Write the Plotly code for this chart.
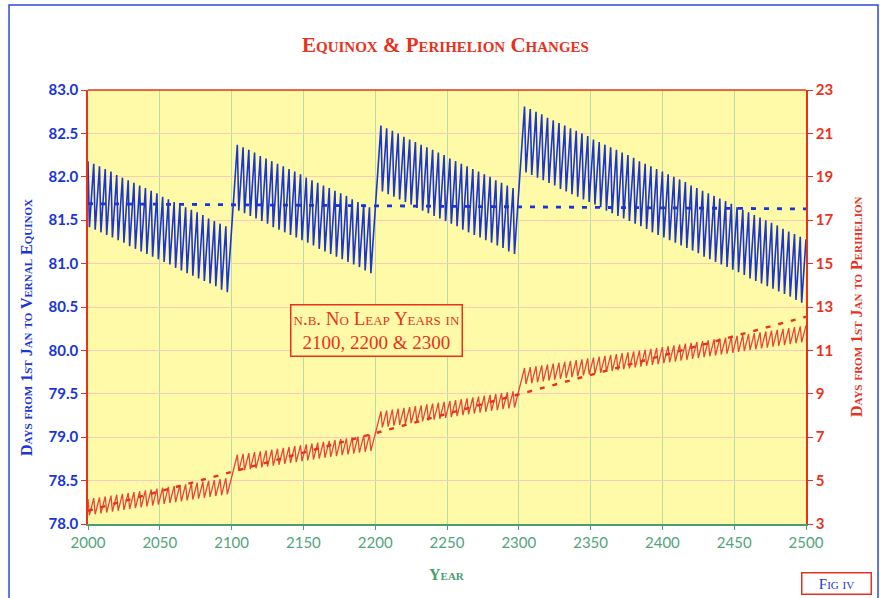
import plotly.graph_objects as go

# leap years (peaks of the saw-tooth); the trough falls in the following year
peak_years = [
    2000, 2004, 2008, 2012, 2016, 2020, 2024, 2028, 2032, 2036, 2040, 2044, 2048,
    2052, 2056, 2060, 2064, 2068, 2072, 2076, 2080, 2084, 2088, 2092, 2096,
    2104, 2108, 2112, 2116, 2120, 2124, 2128, 2132, 2136, 2140, 2144, 2148,
    2152, 2156, 2160, 2164, 2168, 2172, 2176, 2180, 2184, 2188, 2192, 2196,
    2204, 2208, 2212, 2216, 2220, 2224, 2228, 2232, 2236, 2240, 2244, 2248,
    2252, 2256, 2260, 2264, 2268, 2272, 2276, 2280, 2284, 2288, 2292, 2296,
    2304, 2308, 2312, 2316, 2320, 2324, 2328, 2332, 2336, 2340, 2344, 2348,
    2352, 2356, 2360, 2364, 2368, 2372, 2376, 2380, 2384, 2388, 2392, 2396,
    2400, 2404, 2408, 2412, 2416, 2420, 2424, 2428, 2432, 2436, 2440, 2444, 2448,
    2452, 2456, 2460, 2464, 2468, 2472, 2476, 2480, 2484, 2488, 2492, 2496,
]

# days from 1st Jan to vernal equinox
equinox_peak = [
    82.18, 82.15, 82.12, 82.09, 82.06, 82.02, 81.99, 81.96, 81.93, 81.90, 81.87, 81.84, 81.81,
    81.77, 81.74, 81.71, 81.68, 81.65, 81.62, 81.59, 81.56, 81.52, 81.49, 81.46, 81.43,
    82.37, 82.34, 82.31, 82.28, 82.24, 82.21, 82.18, 82.15, 82.12, 82.09, 82.06, 82.03,
    81.99, 81.96, 81.93, 81.90, 81.87, 81.84, 81.81, 81.78, 81.74, 81.71, 81.68, 81.65,
    82.59, 82.56, 82.53, 82.50, 82.46, 82.43, 82.40, 82.37, 82.34, 82.31, 82.28, 82.25,
    82.21, 82.18, 82.15, 82.12, 82.09, 82.06, 82.03, 82.00, 81.96, 81.93, 81.90, 81.87,
    82.81, 82.78, 82.75, 82.72, 82.68, 82.65, 82.62, 82.59, 82.56, 82.53, 82.50, 82.47,
    82.43, 82.40, 82.37, 82.34, 82.31, 82.28, 82.25, 82.22, 82.18, 82.15, 82.12, 82.09,
    82.06, 82.03, 82.00, 81.97, 81.94, 81.90, 81.87, 81.84, 81.81, 81.78, 81.75, 81.72, 81.69,
    81.65, 81.62, 81.59, 81.56, 81.53, 81.50, 81.47, 81.44, 81.40, 81.37, 81.34, 81.31,
]
equinox_trough = [
    81.42, 81.39, 81.36, 81.33, 81.30, 81.27, 81.24, 81.20, 81.17, 81.14, 81.11, 81.08, 81.05,
    81.02, 80.99, 80.95, 80.92, 80.89, 80.86, 80.83, 80.80, 80.77, 80.74, 80.70, 80.67,
    81.61, 81.58, 81.55, 81.52, 81.49, 81.46, 81.42, 81.39, 81.36, 81.33, 81.30, 81.27,
    81.24, 81.21, 81.17, 81.14, 81.11, 81.08, 81.05, 81.02, 80.99, 80.96, 80.92, 80.89,
    81.83, 81.80, 81.77, 81.74, 81.71, 81.68, 81.64, 81.61, 81.58, 81.55, 81.52, 81.49,
    81.46, 81.43, 81.39, 81.36, 81.33, 81.30, 81.27, 81.24, 81.21, 81.18, 81.14, 81.11,
    82.05, 82.02, 81.99, 81.96, 81.93, 81.90, 81.86, 81.83, 81.80, 81.77, 81.74, 81.71,
    81.68, 81.65, 81.61, 81.58, 81.55, 81.52, 81.49, 81.46, 81.43, 81.40, 81.36, 81.33,
    81.30, 81.27, 81.24, 81.21, 81.18, 81.15, 81.12, 81.08, 81.05, 81.02, 80.99, 80.96, 80.93,
    80.90, 80.87, 80.83, 80.80, 80.77, 80.74, 80.71, 80.68, 80.65, 80.62, 80.58, 80.55,
]

# days from 1st Jan to perihelion
perihelion_peak = [
    4.15, 4.19, 4.23, 4.27, 4.31, 4.35, 4.39, 4.43, 4.47, 4.51, 4.55, 4.59, 4.63,
    4.67, 4.71, 4.75, 4.79, 4.83, 4.87, 4.91, 4.95, 4.99, 5.03, 5.07, 5.11,
    6.19, 6.23, 6.27, 6.31, 6.35, 6.39, 6.43, 6.47, 6.51, 6.55, 6.59, 6.63,
    6.67, 6.71, 6.75, 6.79, 6.83, 6.87, 6.91, 6.95, 6.99, 7.03, 7.07, 7.11,
    8.19, 8.23, 8.27, 8.31, 8.35, 8.39, 8.43, 8.47, 8.51, 8.55, 8.59, 8.63,
    8.67, 8.71, 8.75, 8.79, 8.83, 8.87, 8.91, 8.95, 8.99, 9.03, 9.07, 9.11,
    10.19, 10.23, 10.27, 10.31, 10.35, 10.39, 10.43, 10.47, 10.51, 10.55, 10.59, 10.63,
    10.67, 10.71, 10.75, 10.79, 10.83, 10.87, 10.91, 10.95, 10.99, 11.03, 11.07, 11.11,
    11.15, 11.19, 11.23, 11.27, 11.31, 11.35, 11.39, 11.43, 11.47, 11.51, 11.55, 11.59, 11.63,
    11.67, 11.71, 11.75, 11.79, 11.83, 11.87, 11.91, 11.95, 11.99, 12.03, 12.07, 12.11,
]
perihelion_trough = [
    3.41, 3.45, 3.49, 3.53, 3.57, 3.61, 3.65, 3.69, 3.73, 3.77, 3.81, 3.85, 3.89,
    3.93, 3.97, 4.01, 4.05, 4.09, 4.13, 4.17, 4.21, 4.25, 4.29, 4.33, 4.37,
    5.45, 5.49, 5.53, 5.57, 5.61, 5.65, 5.69, 5.73, 5.77, 5.81, 5.85, 5.89,
    5.93, 5.97, 6.01, 6.05, 6.09, 6.13, 6.17, 6.21, 6.25, 6.29, 6.33, 6.37,
    7.45, 7.49, 7.53, 7.57, 7.61, 7.65, 7.69, 7.73, 7.77, 7.81, 7.85, 7.89,
    7.93, 7.97, 8.01, 8.05, 8.09, 8.13, 8.17, 8.21, 8.25, 8.29, 8.33, 8.37,
    9.45, 9.49, 9.53, 9.57, 9.61, 9.65, 9.69, 9.73, 9.77, 9.81, 9.85, 9.89,
    9.93, 9.97, 10.01, 10.05, 10.09, 10.13, 10.17, 10.21, 10.25, 10.29, 10.33, 10.37,
    10.41, 10.45, 10.49, 10.53, 10.57, 10.61, 10.65, 10.69, 10.73, 10.77, 10.81, 10.85, 10.89,
    10.93, 10.97, 11.01, 11.05, 11.09, 11.13, 11.17, 11.21, 11.25, 11.29, 11.33, 11.37,
]

end_year = 2500
equinox_end = 81.28
perihelion_end = 12.15

# straight trend lines (Gregorian mean)
trend_years = [2000, 2500]
equinox_trend = [81.69, 81.63]
perihelion_trend = [3.61, 12.55]

BLUE = "#1a35d6"
RED = "#e8321e"
GREEN = "#4a9d73"

# build the saw-tooth polylines
years, eq_vals, per_vals = [], [], []
for yr, ep, et, pp, pt in zip(peak_years, equinox_peak, equinox_trough,
                              perihelion_peak, perihelion_trough):
    years += [yr, yr + 1]
    eq_vals += [ep, et]
    per_vals += [pp, pt]
years.append(end_year)
eq_vals.append(equinox_end)
per_vals.append(perihelion_end)

fig = go.Figure()

fig.add_trace(go.Scatter(x=years, y=eq_vals, mode="lines",
                         line=dict(color=BLUE, width=1.6), yaxis="y"))
fig.add_trace(go.Scatter(x=trend_years, y=equinox_trend, mode="lines",
                         line=dict(color=BLUE, width=2.8, dash="5px,8px"), yaxis="y"))
fig.add_trace(go.Scatter(x=years, y=per_vals, mode="lines",
                         line=dict(color="#e8443a", width=1.3), yaxis="y2"))
fig.add_trace(go.Scatter(x=trend_years, y=perihelion_trend, mode="lines",
                         line=dict(color=RED, width=2.4, dash="5px,8px"), yaxis="y2"))

tick_font = dict(family="Lato", size=15, weight="bold")
caps = dict(family="Liberation Serif", weight="bold", variant="small-caps")

fig.update_layout(
    width=880,
    height=598,
    margin=dict(l=88, r=74, t=90, b=74),
    paper_bgcolor="white",
    plot_bgcolor="#fffaa8",
    showlegend=False,
    xaxis=dict(
        range=[2000, 2500], dtick=50, tick0=2000,
        showgrid=True, gridcolor="#b8dca8", gridwidth=1.2,
        showline=True, linecolor=GREEN, linewidth=1.5,
        ticks="outside", ticklen=4, tickcolor=GREEN,
        tickfont=dict(family="Lato", size=15, color="#52a47c"),
        zeroline=False,
    ),
    yaxis=dict(
        range=[78, 83], dtick=0.5, tick0=78, tickformat=".1f",
        showgrid=True, gridcolor="#f8cbbf", gridwidth=1.2,
        showline=True, linecolor=RED, linewidth=1.5,
        ticks="outside", ticklen=5, tickcolor=RED,
        tickfont=dict(color=BLUE, **tick_font),
        zeroline=False,
    ),
    yaxis2=dict(
        range=[3, 23], dtick=2, tick0=3, overlaying="y", side="right",
        showgrid=False,
        showline=True, linecolor=RED, linewidth=1.5,
        ticks="outside", ticklen=5, tickcolor=RED,
        tickfont=dict(color=RED, **tick_font),
        zeroline=False,
    ),
    shapes=[
        # red top edge of the plot area
        dict(type="line", xref="paper", yref="paper", x0=0, x1=1, y0=1, y1=1,
             line=dict(color=RED, width=1.5)),
        # blue page frame
        dict(type="rect", xref="paper", yref="paper",
             x0=-0.110, x1=1.1003, y0=-0.2, y1=1.1959,
             line=dict(color="#3048dc", width=1.5), layer="below"),
    ],
    annotations=[
        dict(text="Equinox & Perihelion Changes", xref="paper", yref="paper",
             x=0.4986, y=1.1037, showarrow=False, xanchor="center", yanchor="middle",
             font=dict(size=21, color=RED, **caps)),
        dict(text="Days from 1st Jan to Vernal Equinox", xref="paper", yref="paper",
             x=-0.085, y=0.454, textangle=-90, showarrow=False,
             xanchor="center", yanchor="middle",
             font=dict(size=16, color=BLUE, **caps)),
        dict(text="Days from 1st Jan to Perihelion", xref="paper", yref="paper",
             x=1.0696, y=0.502, textangle=-90, showarrow=False,
             xanchor="center", yanchor="middle",
             font=dict(size=16, color=RED, **caps)),
        dict(text="Year", xref="paper", yref="paper",
             x=0.5, y=-0.1175, showarrow=False, xanchor="center", yanchor="middle",
             font=dict(size=16, color=GREEN, **caps)),
        dict(text="n.b. No Leap Years in<br>2100, 2200 & 2300",
             xref="paper", yref="paper", x=0.4025, y=0.4459,
             showarrow=False, xanchor="center", yanchor="middle",
             bgcolor="#fffaa8", bordercolor=RED, borderwidth=1.5, borderpad=2,
             font=dict(size=19, color=RED, family="Liberation Serif",
                       variant="small-caps")),
        dict(text="Fig iv", xref="paper", yref="paper", x=1.0428, y=-0.137,
             showarrow=False, xanchor="center", yanchor="middle",
             bordercolor=RED, borderwidth=1.5, borderpad=2, width=64,
             font=dict(size=15, color=BLUE, family="Liberation Serif",
                       variant="small-caps")),
    ],
)

fig.write_html("out.html", config={"displayModeBar": False},
               post_script="document.body.style.margin='0';")
